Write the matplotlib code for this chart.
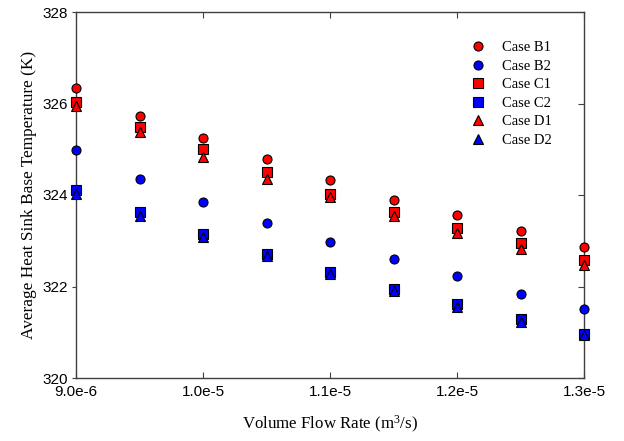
import matplotlib.pyplot as plt

plt.rcParams.update({
    'mathtext.fontset': 'custom',
    'mathtext.rm': 'Liberation Serif',
    'mathtext.it': 'Liberation Serif:italic',
    'mathtext.bf': 'Liberation Serif:bold',
})

# volume flow rate (m^3/s) and base temperatures (K)
flow = [9.0e-6, 9.5e-6, 1.0e-5, 1.05e-5, 1.1e-5, 1.15e-5, 1.2e-5, 1.25e-5, 1.3e-5]
case_b1 = [326.34, 325.72, 325.25, 324.78, 324.32, 323.88, 323.57, 323.21, 322.87]
case_b2 = [324.98, 324.35, 323.84, 323.39, 322.98, 322.60, 322.22, 321.83, 321.50]
case_c1 = [326.03, 325.49, 325.01, 324.51, 324.03, 323.62, 323.27, 322.95, 322.59]
case_c2 = [324.11, 323.62, 323.15, 322.71, 322.32, 321.95, 321.61, 321.28, 320.97]
case_d1 = [325.95, 325.37, 324.84, 324.35, 323.96, 323.54, 323.16, 322.81, 322.46]
case_d2 = [324.03, 323.55, 323.08, 322.66, 322.27, 321.91, 321.56, 321.23, 320.93]

xticks = [9.0e-6, 1.0e-5, 1.1e-5, 1.2e-5, 1.3e-5]
xtick_labels = ['9.0e-6', '1.0e-5', '1.1e-5', '1.2e-5', '1.3e-5']
yticks = [320, 322, 324, 326, 328]

series = [
    ('Case B1', case_b1, 'o', '#ff0000'),
    ('Case B2', case_b2, 'o', '#0000ff'),
    ('Case C1', case_c1, 's', '#ff0000'),
    ('Case C2', case_c2, 's', '#0000ff'),
    ('Case D1', case_d1, '^', '#ff0000'),
    ('Case D2', case_d2, '^', '#0000ff'),
]

fig = plt.figure(figsize=(6.24, 4.41), dpi=100)
ax = fig.add_axes([76 / 624, 63 / 441, 508 / 624, 366 / 441])

for label, vals, mk, col in series:
    ax.plot(flow, vals, linestyle='none', marker=mk, markersize=6.5,
            markerfacecolor=col, markeredgecolor='black', markeredgewidth=0.8,
            label=label, clip_on=False, zorder=3)

ax.set_xlim(9.0e-6, 1.3e-5)
ax.set_ylim(320, 328)
ax.set_xticks(xticks)
ax.set_xticklabels(xtick_labels, fontfamily='Liberation Sans', fontsize=11)
ax.set_yticks(yticks)
ax.set_yticklabels([str(v) for v in yticks], fontfamily='Liberation Sans', fontsize=11)

ax.tick_params(axis='x', direction='in', top=True, length=4, color='#404040', pad=5)
ax.tick_params(axis='y', direction='out', length=3, color='#404040', pad=3)
ax.tick_params(axis='y', which='both', right=True)
# right-side ticks point inward
for t in ax.yaxis.get_major_ticks():
    t.tick2line.set_marker(0)
    t.tick2line.set_markersize(4)

for sp in ax.spines.values():
    sp.set_color('#404040')
    sp.set_linewidth(1.0)

ax.set_xlabel('Volume Flow Rate (m$^3$/s)', fontfamily='Liberation Serif',
              fontsize=12.2, labelpad=11)
ax.set_ylabel('Average Heat Sink Base Temperature (K)', fontfamily='Liberation Serif',
              fontsize=12.4, labelpad=4)

leg = ax.legend(loc='upper left', bbox_to_anchor=(387 / 508, 0.92), frameon=False,
                prop={'family': 'Liberation Serif', 'size': 10.5},
                handletextpad=0.7, labelspacing=0.36, numpoints=1, borderaxespad=0,
                borderpad=0)

plt.savefig('out.png', dpi=100, facecolor='white')
